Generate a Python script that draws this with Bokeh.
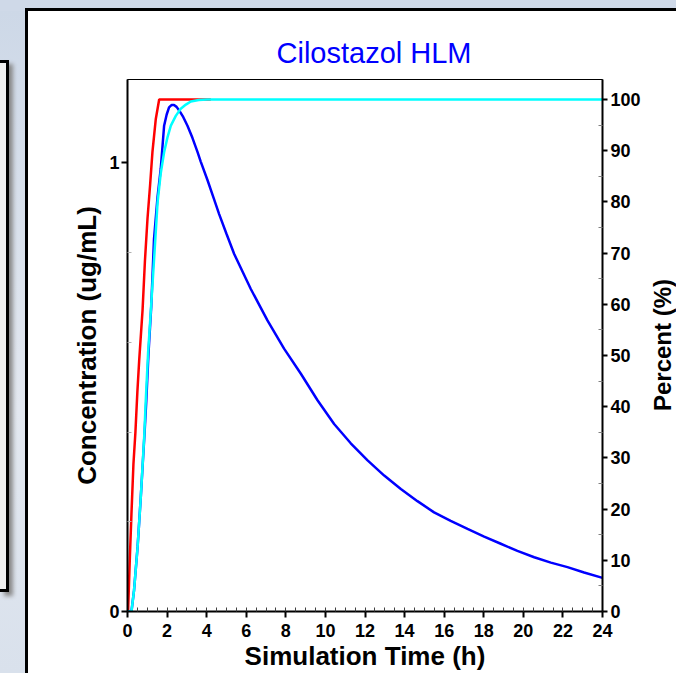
import math
from bokeh.plotting import figure
from bokeh.models import Range1d, LinearAxis, FixedTicker, Div
from bokeh.layouts import column, row
from bokeh.embed import file_html
from bokeh.resources import INLINE

# ---- data ----
t_conc = [0, 0.2, 0.33, 0.51, 0.67, 0.87, 0.95, 1.06, 1.2, 1.34, 1.52, 1.68, 1.85,
          1.98, 2.1, 2.22, 2.35, 2.48, 2.61, 2.82, 3.03, 3.28, 3.54, 3.7, 4.04, 4.35,
          4.63, 5.0, 5.39, 6.23, 7.07, 7.91, 8.76, 9.6, 10.44, 11.28, 12.13, 12.97,
          13.81, 14.65, 15.49, 16.33, 17.18, 18.02, 18.86, 19.7, 20.55, 21.39, 22.23,
          23.07, 24.0]
conc = [0, 0, 0.047, 0.144, 0.254, 0.404, 0.47, 0.575, 0.68, 0.831, 0.925, 0.987, 1.083,
        1.108, 1.124, 1.129, 1.129, 1.125, 1.117, 1.102, 1.083, 1.056, 1.024, 1.003,
        0.962, 0.922, 0.886, 0.842, 0.797, 0.719, 0.649, 0.586, 0.530, 0.471, 0.418,
        0.375, 0.337, 0.303, 0.273, 0.246, 0.221, 0.202, 0.184, 0.167, 0.151, 0.135,
        0.121, 0.109, 0.099, 0.087, 0.075]

t_red = [0, 0.03, 0.12, 0.2, 0.3, 0.4, 0.5, 0.59, 0.76, 0.88, 1.01, 1.14, 1.26, 1.43,
         1.6, 4.21]
red_pct = [0, 0, 10.6, 19.1, 28.8, 35.0, 43.0, 49.0, 58.8, 68.4, 76.7, 83.2, 89.7, 96.2,
           100, 100]

t_cyan = [0, 0.2, 0.33, 0.51, 0.67, 0.85, 0.92, 1.04, 1.18, 1.34, 1.52, 1.68, 1.85,
          2.02, 2.19, 2.44, 2.69, 2.95, 3.2, 3.6, 4.04, 24]
cyan_pct = [0, 0, 4.1, 12.6, 22.3, 34.6, 41.0, 50.5, 58.8, 68.6, 79.9, 85.6, 89.7,
            92.6, 94.9, 96.8, 98.2, 99.0, 99.6, 99.9, 100, 100]

x_ticks = list(range(0, 25, 2))
x_minor = [i * 0.5 for i in range(0, 49)]
left_ticks = [0, 1]
left_minor = [0.2, 0.4, 0.6, 0.8]
right_ticks = list(range(0, 101, 10))
right_minor = list(range(5, 100, 10))

title_text = "Cilostazol HLM"
x_label = "Simulation Time (h)"
y_label = "Concentration (ug/mL)"
y2_label = "Percent (%)"

FONT = "Liberation Sans"
TOTAL_W, TOTAL_H = 676, 673
TOP_H, LEFT_W, RIGHT_W = 11, 28, 26
FW, FH = TOTAL_W - LEFT_W - RIGHT_W, TOTAL_H - TOP_H

p = figure(width=FW, height=FH, x_range=Range1d(0, 24), y_range=Range1d(0, 1.186),
           output_backend="svg", toolbar_location=None,
           min_border_left=127 - LEFT_W, min_border_right=(TOTAL_W - RIGHT_W) - 602,
           min_border_top=79 - TOP_H, min_border_bottom=FH - (611 - TOP_H),
           background_fill_color="white", border_fill_color="white",
           outline_line_color="black", outline_line_width=1,
           x_axis_label=x_label, y_axis_label=y_label)
p.grid.visible = False
p.extra_y_ranges = {"pct": Range1d(0, 103.9)}

# title
p.title.text = title_text
p.title.text_color = "#0000ff"
p.title.text_font = FONT
p.title.text_font_size = "29px"
p.title.text_font_style = "normal"
p.title.align = "left"
p.title.offset = 276 - 127
p.title.standoff = 22

def style_axis(ax):
    ax.axis_line_color = "black"
    ax.axis_line_width = 2
    ax.major_tick_line_color = "black"
    ax.major_tick_line_width = 2
    ax.major_tick_out = 6
    ax.major_tick_in = 0
    ax.minor_tick_out = 0
    ax.minor_tick_in = 4
    ax.minor_tick_line_color = "#808080"
    ax.major_label_text_font = FONT
    ax.major_label_text_font_style = "bold"
    ax.major_label_text_font_size = "18px"
    ax.major_label_text_color = "black"
    ax.axis_label_text_font = FONT
    ax.axis_label_text_font_style = "bold"
    ax.axis_label_text_font_size = "26px"
    ax.axis_label_text_color = "black"
    ax.major_label_standoff = 2

xa = p.xaxis[0]
style_axis(xa)
xa.ticker = FixedTicker(ticks=x_ticks, minor_ticks=x_minor)
xa.minor_tick_line_color = "#404040"
xa.major_label_standoff = 6
xa.axis_label_standoff = 1

ya = p.yaxis[0]
style_axis(ya)
ya.ticker = FixedTicker(ticks=left_ticks, minor_ticks=left_minor)
ya.axis_label_standoff = 4
ya.minor_tick_line_color = "#b0b0b0"

ra = LinearAxis(y_range_name="pct")
style_axis(ra)
ra.ticker = FixedTicker(ticks=right_ticks, minor_ticks=right_minor)
ra.major_tick_out = 5
ra.major_label_standoff = 3
p.add_layout(ra, "right")

p.line(t_red, red_pct, y_range_name="pct", line_color="#ff0000", line_width=2.5)
p.line(t_conc, conc, line_color="#0000ff", line_width=2.5)
p.line(t_cyan, cyan_pct, y_range_name="pct", line_color="#00ffff", line_width=2.5)

# slide background around the chart panel
BG = "linear-gradient(180deg, #cdd8e7 0%, #e3e8f0 60%, #d9e1ec 100%)"
top_div = Div(width=TOTAL_W, height=TOP_H, margin=0,
              styles={"background": "#cfd9e8", "overflow": "hidden"},
              text=('<div style="position:absolute;left:%dpx;top:8px;width:%dpx;'
                    'height:3px;background:#000"></div>') % (LEFT_W - 3, TOTAL_W))
left_div = Div(width=LEFT_W, height=FH, margin=0,
               styles={"background": BG, "overflow": "hidden"},
               text=('<div style="position:absolute;left:0px;top:%dpx;width:9px;height:532px;'
                     'background:#f0f0f0;border:3px solid #000;border-left:none;'
                     'box-shadow:4px 4px 4px #8a8a8a"></div>'
                     '<div style="position:absolute;left:%dpx;top:0px;width:3px;height:%dpx;'
                     'background:#000"></div>') % (60 - TOP_H, LEFT_W - 3, FH))
# right-hand axis title, reading bottom-to-top, centred on the plot frame
frame_mid = (79 + 611) / 2 - TOP_H
right_div = Div(width=RIGHT_W, height=FH, margin=0,
                styles={"background": "white"},
                text=('<div style="position:absolute;left:0px;top:%dpx;width:%dpx;height:400px;'
                      'display:flex;align-items:center;justify-content:center;">'
                      '<span style="writing-mode:vertical-rl;transform:rotate(180deg);'
                      'font-family:\'%s\';font-weight:bold;font-size:24px;color:#000;'
                      'white-space:nowrap;line-height:24px;">%s</span></div>')
                     % (frame_mid - 200, RIGHT_W - 1, FONT, y2_label))

layout = column(top_div, row(left_div, p, right_div, spacing=0), spacing=0)

open("out.html", "w").write(file_html(layout, INLINE))
